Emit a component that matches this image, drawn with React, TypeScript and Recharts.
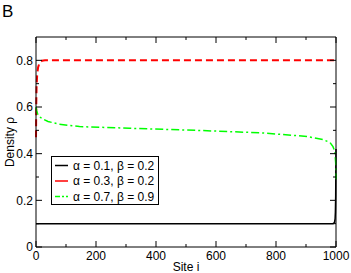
import React from 'react';
import { LineChart, Line, XAxis, YAxis, Legend } from 'recharts';

const blackSites = [0, 100, 200, 300, 400, 500, 600, 700, 800, 900, 990, 995, 997, 998, 999, 1000];
const blackRho = [0.1, 0.1, 0.1, 0.1, 0.1, 0.1, 0.1, 0.1, 0.1, 0.1, 0.1, 0.105, 0.12, 0.15, 0.22, 0.42];

const redSites = [0, 1, 2, 4, 7, 12, 20, 30, 200, 400, 600, 800, 1000];
const redRho = [0.47, 0.62, 0.69, 0.74, 0.77, 0.79, 0.798, 0.8, 0.8, 0.8, 0.8, 0.8, 0.8];

const greenSites = [0, 2, 5, 10, 20, 40, 78, 145, 312, 533, 755, 903, 957, 980, 990, 996, 999, 1000];
const greenRho = [0.6, 0.585, 0.572, 0.561, 0.55, 0.538, 0.526, 0.516, 0.509, 0.5, 0.489, 0.474, 0.46, 0.448, 0.43, 0.41, 0.36, 0.29];

const seriesNames = ['α = 0.1, β = 0.2', 'α = 0.3, β = 0.2', 'α = 0.7, β = 0.9'];
const seriesColors = ['#000000', '#ff0000', '#00ff00'];

const xTicks = [0, 100, 200, 300, 400, 500, 600, 700, 800, 900, 1000];
const yTicks = [0, 0.1, 0.2, 0.3, 0.4, 0.5, 0.6, 0.7, 0.8];

const FONT = '"Liberation Sans", Arial, Helvetica, sans-serif';

const toPoints = (xs: number[], ys: number[]) => xs.map((x, i) => ({ x, y: ys[i] }));

const isMajorX = (v: number) => v % 200 === 0;
const isMajorY = (v: number) => Math.round(v * 10) % 2 === 0;

const BottomTick = (props: any) => {
  const { x, y, payload } = props;
  const major = isMajorX(payload.value);
  return (
    <g>
      <line x1={x} y1={y} x2={x} y2={y - (major ? 6 : 3)} stroke="#000" />
      {major && (
        <text x={x} y={y + 13} textAnchor="middle" fontSize={12} fontFamily={FONT} fill="#000">
          {payload.value}
        </text>
      )}
    </g>
  );
};

const TopTick = (props: any) => {
  const { x, y, payload } = props;
  const major = isMajorX(payload.value);
  return <line x1={x} y1={y} x2={x} y2={y + (major ? 6 : 3)} stroke="#000" />;
};

const LeftTick = (props: any) => {
  const { x, y, payload } = props;
  const major = isMajorY(payload.value);
  return (
    <g>
      <line x1={x} y1={y} x2={x + (major ? 6 : 3)} y2={y} stroke="#000" />
      {major && (
        <text x={x - 3} y={y} dy="0.35em" textAnchor="end" fontSize={12} fontFamily={FONT} fill="#000">
          {Math.round(payload.value * 10) / 10}
        </text>
      )}
    </g>
  );
};

const RightTick = (props: any) => {
  const { x, y, payload } = props;
  const major = isMajorY(payload.value);
  return <line x1={x} y1={y} x2={x - (major ? 6 : 3)} y2={y} stroke="#000" />;
};

const LegendBox = () => (
  <div
    style={{
      width: 106,
      height: 47,
      border: '1px solid #000',
      background: '#fff',
      fontFamily: FONT,
      fontSize: 12,
      color: '#000',
      boxSizing: 'content-box',
    }}
  >
    <svg width={106} height={47}>
      {seriesNames.map((name, i) => {
        const cy = 8.5 + i * 15.5;
        return (
          <g key={name}>
            <line
              x1={3}
              x2={16}
              y1={cy}
              y2={cy}
              stroke={seriesColors[i]}
              strokeWidth={1.5}
              strokeDasharray={i === 2 ? '5 2 2 2' : undefined}
            />
            <text x={21} y={cy} dy="0.35em" fontSize={12} fontFamily={FONT} fill="#000">
              {name}
            </text>
          </g>
        );
      })}
    </svg>
  </div>
);

export default function App() {
  const blackData = toPoints(blackSites, blackRho);
  return (
    <div style={{ position: 'absolute', left: 0, top: 0, width: 351, height: 273, background: '#fff' }}>
      <div style={{ position: 'absolute', left: 2, top: 3, fontSize: 17, lineHeight: '17px', fontFamily: FONT }}>B</div>
      <LineChart width={351} height={273} margin={{ top: 36, right: 14, bottom: 0, left: 0 }}>
        <XAxis
          xAxisId="bottom"
          type="number"
          dataKey="x"
          domain={[0, 1000]}
          ticks={xTicks}
          interval={0}
          height={26}
          tickSize={0}
          tickMargin={0}
          tick={<BottomTick />}
          axisLine={{ stroke: '#000' }}
          tickLine={false}
          label={(p: any) => {
            const vb = p.viewBox;
            return (
              <text x={vb.x + vb.width / 2} y={vb.y + 24} textAnchor="middle" fontSize={12} fontFamily={FONT} fill="#000">
                Site i
              </text>
            );
          }}
        />
        <XAxis
          xAxisId="top"
          orientation="top"
          type="number"
          dataKey="x"
          domain={[0, 1000]}
          ticks={xTicks}
          interval={0}
          height={1}
          tickSize={0}
          tickMargin={0}
          tick={<TopTick />}
          axisLine={{ stroke: '#000' }}
          tickLine={false}
        />
        <YAxis
          yAxisId="left"
          type="number"
          domain={[0, 0.9]}
          ticks={yTicks}
          interval={0}
          width={36}
          tickSize={0}
          tickMargin={0}
          tick={<LeftTick />}
          axisLine={{ stroke: '#000' }}
          tickLine={false}
          label={(p: any) => {
            const vb = p.viewBox;
            const cx = 14;
            const cy = vb.y + vb.height / 2;
            return (
              <text
                x={cx}
                y={cy}
                textAnchor="middle"
                transform={`rotate(-90 ${cx} ${cy})`}
                fontSize={12}
                fontFamily={FONT}
                fill="#000"
              >
                Density ρ
              </text>
            );
          }}
        />
        <YAxis
          yAxisId="right"
          orientation="right"
          type="number"
          domain={[0, 0.9]}
          ticks={yTicks}
          interval={0}
          width={1}
          tickSize={0}
          tickMargin={0}
          tick={<RightTick />}
          axisLine={{ stroke: '#000' }}
          tickLine={false}
        />
        {/* invisible series so the mirrored top/right frame axes get drawn */}
        <Line
          xAxisId="top"
          yAxisId="right"
          data={blackData}
          dataKey="y"
          stroke="none"
          legendType="none"
          dot={false}
          activeDot={false}
          isAnimationActive={false}
        />
        <Line
          xAxisId="bottom"
          yAxisId="left"
          data={blackData}
          dataKey="y"
          name={seriesNames[0]}
          stroke={seriesColors[0]}
          strokeWidth={1.5}
          dot={false}
          isAnimationActive={false}
        />
        <Line
          xAxisId="bottom"
          yAxisId="left"
          data={toPoints(redSites, redRho)}
          dataKey="y"
          name={seriesNames[1]}
          stroke={seriesColors[1]}
          strokeWidth={2}
          strokeDasharray="7 4"
          dot={false}
          isAnimationActive={false}
        />
        <Line
          xAxisId="bottom"
          yAxisId="left"
          data={toPoints(greenSites, greenRho)}
          dataKey="y"
          name={seriesNames[2]}
          stroke={seriesColors[2]}
          strokeWidth={1.5}
          strokeDasharray="8 3 2 3"
          dot={false}
          isAnimationActive={false}
        />
        <Legend
          layout="vertical"
          align="center"
          verticalAlign="middle"
          content={() => <LegendBox />}
          wrapperStyle={{ left: 51, top: 156, width: 108, height: 49 }}
        />
      </LineChart>
    </div>
  );
}
